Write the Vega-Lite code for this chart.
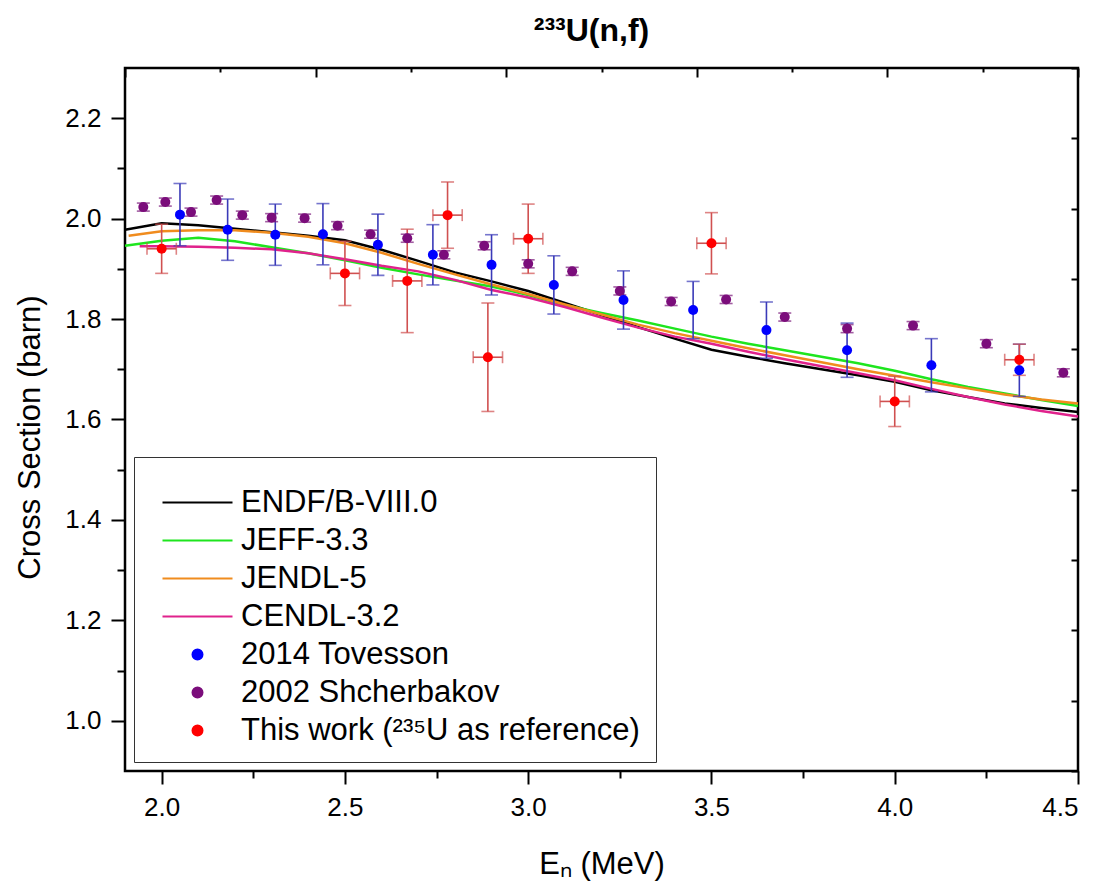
{
  "$schema": "https://vega.github.io/schema/vega-lite/v6.json",
  "width": 953,
  "height": 703,
  "autosize": "none",
  "padding": {"left": 125, "top": 68, "right": 23, "bottom": 114},
  "background": "white",
  "title": {"text": "²³³U(n,f)", "font": "Liberation Sans", "fontSize": 32, "fontWeight": "bold", "anchor": "middle", "offset": 19, "dx": -10, "color": "#000"},
  "config": {
    "view": {"stroke": "#000", "strokeWidth": 2.5},
    "axis": {"domain": false, "grid": false, "tickColor": "#000", "tickWidth": 2, "labelColor": "#000", "titleColor": "#000", "labelFont": "Liberation Sans", "titleFont": "Liberation Sans", "labelFontSize": 26, "titleFontSize": 31, "titleFontWeight": "normal"}
  },
  "datasets": {
    "curves": [
      {"s": "ENDF/B-VIII.0", "E": 1.9, "xs": 1.978}, {"s": "ENDF/B-VIII.0", "E": 2.0, "xs": 1.991}, {"s": "ENDF/B-VIII.0", "E": 2.1, "xs": 1.987}, {"s": "ENDF/B-VIII.0", "E": 2.2, "xs": 1.980}, {"s": "ENDF/B-VIII.0", "E": 2.3, "xs": 1.973}, {"s": "ENDF/B-VIII.0", "E": 2.4, "xs": 1.966}, {"s": "ENDF/B-VIII.0", "E": 2.5, "xs": 1.957}, {"s": "ENDF/B-VIII.0", "E": 2.6, "xs": 1.938}, {"s": "ENDF/B-VIII.0", "E": 2.7, "xs": 1.916}, {"s": "ENDF/B-VIII.0", "E": 2.8, "xs": 1.893}, {"s": "ENDF/B-VIII.0", "E": 2.9, "xs": 1.875}, {"s": "ENDF/B-VIII.0", "E": 3.0, "xs": 1.856}, {"s": "ENDF/B-VIII.0", "E": 3.1, "xs": 1.832}, {"s": "ENDF/B-VIII.0", "E": 3.2, "xs": 1.808}, {"s": "ENDF/B-VIII.0", "E": 3.3, "xs": 1.784}, {"s": "ENDF/B-VIII.0", "E": 3.4, "xs": 1.761}, {"s": "ENDF/B-VIII.0", "E": 3.5, "xs": 1.739}, {"s": "ENDF/B-VIII.0", "E": 3.6, "xs": 1.725}, {"s": "ENDF/B-VIII.0", "E": 3.7, "xs": 1.712}, {"s": "ENDF/B-VIII.0", "E": 3.8, "xs": 1.700}, {"s": "ENDF/B-VIII.0", "E": 3.9, "xs": 1.688}, {"s": "ENDF/B-VIII.0", "E": 4.0, "xs": 1.675}, {"s": "ENDF/B-VIII.0", "E": 4.1, "xs": 1.658}, {"s": "ENDF/B-VIII.0", "E": 4.2, "xs": 1.645}, {"s": "ENDF/B-VIII.0", "E": 4.3, "xs": 1.632}, {"s": "ENDF/B-VIII.0", "E": 4.4, "xs": 1.623}, {"s": "ENDF/B-VIII.0", "E": 4.5, "xs": 1.615},
      {"s": "JEFF-3.3", "E": 1.9, "xs": 1.946}, {"s": "JEFF-3.3", "E": 2.0, "xs": 1.956}, {"s": "JEFF-3.3", "E": 2.1, "xs": 1.962}, {"s": "JEFF-3.3", "E": 2.2, "xs": 1.955}, {"s": "JEFF-3.3", "E": 2.3, "xs": 1.943}, {"s": "JEFF-3.3", "E": 2.4, "xs": 1.931}, {"s": "JEFF-3.3", "E": 2.5, "xs": 1.917}, {"s": "JEFF-3.3", "E": 2.6, "xs": 1.902}, {"s": "JEFF-3.3", "E": 2.7, "xs": 1.889}, {"s": "JEFF-3.3", "E": 2.8, "xs": 1.877}, {"s": "JEFF-3.3", "E": 2.9, "xs": 1.865}, {"s": "JEFF-3.3", "E": 3.0, "xs": 1.848}, {"s": "JEFF-3.3", "E": 3.1, "xs": 1.828}, {"s": "JEFF-3.3", "E": 3.2, "xs": 1.812}, {"s": "JEFF-3.3", "E": 3.3, "xs": 1.797}, {"s": "JEFF-3.3", "E": 3.4, "xs": 1.781}, {"s": "JEFF-3.3", "E": 3.5, "xs": 1.765}, {"s": "JEFF-3.3", "E": 3.6, "xs": 1.751}, {"s": "JEFF-3.3", "E": 3.7, "xs": 1.738}, {"s": "JEFF-3.3", "E": 3.8, "xs": 1.725}, {"s": "JEFF-3.3", "E": 3.9, "xs": 1.712}, {"s": "JEFF-3.3", "E": 4.0, "xs": 1.697}, {"s": "JEFF-3.3", "E": 4.1, "xs": 1.680}, {"s": "JEFF-3.3", "E": 4.2, "xs": 1.665}, {"s": "JEFF-3.3", "E": 4.3, "xs": 1.652}, {"s": "JEFF-3.3", "E": 4.4, "xs": 1.639}, {"s": "JEFF-3.3", "E": 4.5, "xs": 1.627},
      {"s": "JENDL-5", "E": 1.91, "xs": 1.966}, {"s": "JENDL-5", "E": 2.0, "xs": 1.975}, {"s": "JENDL-5", "E": 2.1, "xs": 1.977}, {"s": "JENDL-5", "E": 2.2, "xs": 1.977}, {"s": "JENDL-5", "E": 2.3, "xs": 1.972}, {"s": "JENDL-5", "E": 2.4, "xs": 1.964}, {"s": "JENDL-5", "E": 2.5, "xs": 1.951}, {"s": "JENDL-5", "E": 2.6, "xs": 1.932}, {"s": "JENDL-5", "E": 2.7, "xs": 1.910}, {"s": "JENDL-5", "E": 2.8, "xs": 1.889}, {"s": "JENDL-5", "E": 2.9, "xs": 1.869}, {"s": "JENDL-5", "E": 3.0, "xs": 1.850}, {"s": "JENDL-5", "E": 3.1, "xs": 1.829}, {"s": "JENDL-5", "E": 3.2, "xs": 1.809}, {"s": "JENDL-5", "E": 3.3, "xs": 1.789}, {"s": "JENDL-5", "E": 3.4, "xs": 1.772}, {"s": "JENDL-5", "E": 3.5, "xs": 1.757}, {"s": "JENDL-5", "E": 3.6, "xs": 1.742}, {"s": "JENDL-5", "E": 3.7, "xs": 1.728}, {"s": "JENDL-5", "E": 3.8, "xs": 1.714}, {"s": "JENDL-5", "E": 3.9, "xs": 1.700}, {"s": "JENDL-5", "E": 4.0, "xs": 1.687}, {"s": "JENDL-5", "E": 4.1, "xs": 1.674}, {"s": "JENDL-5", "E": 4.2, "xs": 1.662}, {"s": "JENDL-5", "E": 4.3, "xs": 1.650}, {"s": "JENDL-5", "E": 4.4, "xs": 1.640}, {"s": "JENDL-5", "E": 4.5, "xs": 1.632},
      {"s": "CENDL-3.2", "E": 1.94, "xs": 1.945}, {"s": "CENDL-3.2", "E": 2.0, "xs": 1.945}, {"s": "CENDL-3.2", "E": 2.1, "xs": 1.944}, {"s": "CENDL-3.2", "E": 2.2, "xs": 1.942}, {"s": "CENDL-3.2", "E": 2.3, "xs": 1.939}, {"s": "CENDL-3.2", "E": 2.4, "xs": 1.931}, {"s": "CENDL-3.2", "E": 2.5, "xs": 1.919}, {"s": "CENDL-3.2", "E": 2.6, "xs": 1.906}, {"s": "CENDL-3.2", "E": 2.7, "xs": 1.895}, {"s": "CENDL-3.2", "E": 2.8, "xs": 1.878}, {"s": "CENDL-3.2", "E": 2.9, "xs": 1.858}, {"s": "CENDL-3.2", "E": 3.0, "xs": 1.843}, {"s": "CENDL-3.2", "E": 3.1, "xs": 1.824}, {"s": "CENDL-3.2", "E": 3.2, "xs": 1.803}, {"s": "CENDL-3.2", "E": 3.3, "xs": 1.783}, {"s": "CENDL-3.2", "E": 3.4, "xs": 1.765}, {"s": "CENDL-3.2", "E": 3.5, "xs": 1.751}, {"s": "CENDL-3.2", "E": 3.6, "xs": 1.735}, {"s": "CENDL-3.2", "E": 3.7, "xs": 1.720}, {"s": "CENDL-3.2", "E": 3.8, "xs": 1.706}, {"s": "CENDL-3.2", "E": 3.9, "xs": 1.692}, {"s": "CENDL-3.2", "E": 4.0, "xs": 1.678}, {"s": "CENDL-3.2", "E": 4.1, "xs": 1.661}, {"s": "CENDL-3.2", "E": 4.2, "xs": 1.645}, {"s": "CENDL-3.2", "E": 4.3, "xs": 1.630}, {"s": "CENDL-3.2", "E": 4.4, "xs": 1.617}, {"s": "CENDL-3.2", "E": 4.5, "xs": 1.606}
    ],
    "pts": [
      {"s": "2002 Shcherbakov", "E": 1.95, "xs": 2.023, "lo": 2.015, "hi": 2.031},
      {"s": "2002 Shcherbakov", "E": 2.01, "xs": 2.033, "lo": 2.025, "hi": 2.041},
      {"s": "2002 Shcherbakov", "E": 2.08, "xs": 2.013, "lo": 2.005, "hi": 2.021},
      {"s": "2002 Shcherbakov", "E": 2.15, "xs": 2.037, "lo": 2.029, "hi": 2.045},
      {"s": "2002 Shcherbakov", "E": 2.22, "xs": 2.007, "lo": 1.999, "hi": 2.015},
      {"s": "2002 Shcherbakov", "E": 2.30, "xs": 2.002, "lo": 1.994, "hi": 2.010},
      {"s": "2002 Shcherbakov", "E": 2.39, "xs": 2.001, "lo": 1.993, "hi": 2.009},
      {"s": "2002 Shcherbakov", "E": 2.48, "xs": 1.986, "lo": 1.978, "hi": 1.994},
      {"s": "2002 Shcherbakov", "E": 2.57, "xs": 1.969, "lo": 1.961, "hi": 1.977},
      {"s": "2002 Shcherbakov", "E": 2.67, "xs": 1.961, "lo": 1.953, "hi": 1.969},
      {"s": "2002 Shcherbakov", "E": 2.77, "xs": 1.928, "lo": 1.920, "hi": 1.936},
      {"s": "2002 Shcherbakov", "E": 2.88, "xs": 1.946, "lo": 1.938, "hi": 1.954},
      {"s": "2002 Shcherbakov", "E": 3.00, "xs": 1.910, "lo": 1.902, "hi": 1.918},
      {"s": "2002 Shcherbakov", "E": 3.12, "xs": 1.895, "lo": 1.887, "hi": 1.903},
      {"s": "2002 Shcherbakov", "E": 3.25, "xs": 1.856, "lo": 1.848, "hi": 1.864},
      {"s": "2002 Shcherbakov", "E": 3.39, "xs": 1.835, "lo": 1.827, "hi": 1.843},
      {"s": "2002 Shcherbakov", "E": 3.54, "xs": 1.839, "lo": 1.831, "hi": 1.847},
      {"s": "2002 Shcherbakov", "E": 3.70, "xs": 1.804, "lo": 1.796, "hi": 1.812},
      {"s": "2002 Shcherbakov", "E": 3.87, "xs": 1.781, "lo": 1.773, "hi": 1.789},
      {"s": "2002 Shcherbakov", "E": 4.05, "xs": 1.787, "lo": 1.779, "hi": 1.795},
      {"s": "2002 Shcherbakov", "E": 4.25, "xs": 1.751, "lo": 1.743, "hi": 1.759},
      {"s": "2002 Shcherbakov", "E": 4.46, "xs": 1.693, "lo": 1.685, "hi": 1.701},
      {"s": "2014 Tovesson", "E": 2.05, "xs": 2.008, "lo": 1.946, "hi": 2.070},
      {"s": "2014 Tovesson", "E": 2.18, "xs": 1.978, "lo": 1.917, "hi": 2.039},
      {"s": "2014 Tovesson", "E": 2.31, "xs": 1.968, "lo": 1.907, "hi": 2.029},
      {"s": "2014 Tovesson", "E": 2.44, "xs": 1.969, "lo": 1.908, "hi": 2.030},
      {"s": "2014 Tovesson", "E": 2.59, "xs": 1.948, "lo": 1.887, "hi": 2.009},
      {"s": "2014 Tovesson", "E": 2.74, "xs": 1.928, "lo": 1.868, "hi": 1.988},
      {"s": "2014 Tovesson", "E": 2.90, "xs": 1.908, "lo": 1.848, "hi": 1.968},
      {"s": "2014 Tovesson", "E": 3.07, "xs": 1.868, "lo": 1.810, "hi": 1.926},
      {"s": "2014 Tovesson", "E": 3.26, "xs": 1.838, "lo": 1.780, "hi": 1.896},
      {"s": "2014 Tovesson", "E": 3.45, "xs": 1.818, "lo": 1.761, "hi": 1.875},
      {"s": "2014 Tovesson", "E": 3.65, "xs": 1.778, "lo": 1.722, "hi": 1.834},
      {"s": "2014 Tovesson", "E": 3.87, "xs": 1.738, "lo": 1.684, "hi": 1.792},
      {"s": "2014 Tovesson", "E": 4.10, "xs": 1.708, "lo": 1.655, "hi": 1.761},
      {"s": "2014 Tovesson", "E": 4.34, "xs": 1.698, "lo": 1.646, "hi": 1.750},
      {"s": "This work (²³⁵U as reference)", "E": 2.00, "xs": 1.940, "lo": 1.891, "hi": 1.989, "Elo": 1.96, "Ehi": 2.04},
      {"s": "This work (²³⁵U as reference)", "E": 2.50, "xs": 1.891, "lo": 1.827, "hi": 1.955, "Elo": 2.46, "Ehi": 2.54},
      {"s": "This work (²³⁵U as reference)", "E": 2.67, "xs": 1.876, "lo": 1.773, "hi": 1.979, "Elo": 2.63, "Ehi": 2.71},
      {"s": "This work (²³⁵U as reference)", "E": 2.78, "xs": 2.007, "lo": 1.941, "hi": 2.073, "Elo": 2.74, "Ehi": 2.82},
      {"s": "This work (²³⁵U as reference)", "E": 2.89, "xs": 1.724, "lo": 1.616, "hi": 1.832, "Elo": 2.85, "Ehi": 2.93},
      {"s": "This work (²³⁵U as reference)", "E": 3.00, "xs": 1.960, "lo": 1.891, "hi": 2.029, "Elo": 2.96, "Ehi": 3.04},
      {"s": "This work (²³⁵U as reference)", "E": 3.50, "xs": 1.951, "lo": 1.890, "hi": 2.012, "Elo": 3.46, "Ehi": 3.54},
      {"s": "This work (²³⁵U as reference)", "E": 4.00, "xs": 1.636, "lo": 1.586, "hi": 1.686, "Elo": 3.96, "Ehi": 4.04},
      {"s": "This work (²³⁵U as reference)", "E": 4.34, "xs": 1.719, "lo": 1.688, "hi": 1.750, "Elo": 4.30, "Ehi": 4.38}
    ]
  },
  "layer": [
    {
      "data": {"name": "curves"},
      "mark": {"type": "line", "strokeWidth": 2.5},
      "encoding": {
        "x": {"field": "E", "type": "quantitative", "scale": {"domain": [1.9, 4.5], "nice": false, "zero": false},
          "axis": {"orient": "bottom", "values": [2, 2.25, 2.5, 2.75, 3, 3.25, 3.5, 3.75, 4, 4.25, 4.5],
            "tickSize": {"condition": {"test": "datum.value % 0.5 == 0", "value": 13}, "value": 7},
            "labelExpr": "datum.value % 0.5 == 0 ? format(datum.value, '.1f') : ''",
            "labelPadding": 10, "title": "Eₙ (MeV)", "titleY": 102, "titleBaseline": "alphabetic"}},
        "y": {"field": "xs", "type": "quantitative", "scale": {"domain": [0.9, 2.3], "nice": false, "zero": false},
          "axis": {"orient": "left", "values": [1.0, 1.1, 1.2, 1.3, 1.4, 1.5, 1.6, 1.7, 1.8, 1.9, 2.0, 2.1, 2.2],
            "tickSize": {"condition": {"test": "round(datum.value * 10) % 2 == 0", "value": 14}, "value": 8},
            "labelExpr": "round(datum.value * 10) % 2 == 0 ? format(datum.value, '.1f') : ''",
            "labelPadding": 10, "title": "Cross Section (barn)", "titleX": -95, "titleY": 369, "titleBaseline": "middle"}},
        "color": {"field": "s", "type": "nominal",
          "scale": {"domain": ["ENDF/B-VIII.0", "JEFF-3.3", "JENDL-5", "CENDL-3.2", "2014 Tovesson", "2002 Shcherbakov", "This work (²³⁵U as reference)"],
                    "range": ["#000000", "#1ee51e", "#f08c1e", "#e0228c", "#0000ff", "#7b0d7b", "#ff0000"]}}
      }
    },
    {
      "data": {"name": "pts"},
      "mark": {"type": "rule", "strokeWidth": 1.6},
      "encoding": {
        "x": {"field": "E", "type": "quantitative", "scale": {"domain": [1.9, 4.5], "nice": false, "zero": false},
          "axis": {"orient": "top", "values": [1.9, 2.16, 2.42, 2.68, 2.94, 3.2, 3.46, 3.72, 3.98, 4.24, 4.5], "labels": false, "title": null,
            "tickSize": {"condition": {"test": "indexof([1.9, 2.42, 2.94, 3.46, 3.98, 4.5], datum.value) >= 0", "value": -9}, "value": -4}}},
        "y": {"field": "lo", "type": "quantitative", "scale": {"domain": [0.9, 2.3], "nice": false, "zero": false},
          "axis": {"orient": "right", "values": [0.9, 1.04, 1.18, 1.32, 1.46, 1.6, 1.74, 1.88, 2.02, 2.16, 2.3], "labels": false, "title": null, "tickSize": -7}},
        "y2": {"field": "hi"},
        "stroke": {"field": "s", "type": "nominal", "scale": {"domain": ["2014 Tovesson", "2002 Shcherbakov", "This work (²³⁵U as reference)"], "range": ["#3a3ab8", "#7a1a7a", "#d05050"]}, "legend": null}
      }
    },
    {
      "data": {"name": "pts"},
      "mark": {"type": "tick", "orient": "horizontal", "size": 13, "thickness": 1.6},
      "encoding": {
        "x": {"field": "E", "type": "quantitative", "scale": {"domain": [1.9, 4.5], "nice": false, "zero": false}, "axis": null},
        "y": {"field": "lo", "type": "quantitative", "scale": {"domain": [0.9, 2.3], "nice": false, "zero": false}, "axis": null},
        "fill": {"field": "s", "type": "nominal", "scale": {"domain": ["2014 Tovesson", "2002 Shcherbakov", "This work (²³⁵U as reference)"], "range": ["#3a3ab8", "#7a1a7a", "#d05050"]}, "legend": null}
      }
    },
    {
      "data": {"name": "pts"},
      "mark": {"type": "tick", "orient": "horizontal", "size": 13, "thickness": 1.6},
      "encoding": {
        "x": {"field": "E", "type": "quantitative", "scale": {"domain": [1.9, 4.5], "nice": false, "zero": false}, "axis": null},
        "y": {"field": "hi", "type": "quantitative", "scale": {"domain": [0.9, 2.3], "nice": false, "zero": false}, "axis": null},
        "fill": {"field": "s", "type": "nominal", "legend": null}
      }
    },
    {
      "data": {"name": "pts"},
      "transform": [{"filter": "isValid(datum.Elo)"}],
      "mark": {"type": "rule", "strokeWidth": 1.6, "color": "#d05050"},
      "encoding": {
        "x": {"field": "Elo", "type": "quantitative", "scale": {"domain": [1.9, 4.5], "nice": false, "zero": false}, "axis": null},
        "x2": {"field": "Ehi"},
        "y": {"field": "xs", "type": "quantitative", "scale": {"domain": [0.9, 2.3], "nice": false, "zero": false}, "axis": null}
      }
    },
    {
      "data": {"name": "pts"},
      "transform": [{"filter": "isValid(datum.Elo)"}],
      "mark": {"type": "tick", "orient": "vertical", "size": 12, "thickness": 1.6, "color": "#d05050"},
      "encoding": {
        "x": {"field": "Elo", "type": "quantitative", "scale": {"domain": [1.9, 4.5], "nice": false, "zero": false}, "axis": null},
        "y": {"field": "xs", "type": "quantitative", "scale": {"domain": [0.9, 2.3], "nice": false, "zero": false}, "axis": null}
      }
    },
    {
      "data": {"name": "pts"},
      "transform": [{"filter": "isValid(datum.Elo)"}],
      "mark": {"type": "tick", "orient": "vertical", "size": 12, "thickness": 1.6, "color": "#d05050"},
      "encoding": {
        "x": {"field": "Ehi", "type": "quantitative", "scale": {"domain": [1.9, 4.5], "nice": false, "zero": false}, "axis": null},
        "y": {"field": "xs", "type": "quantitative", "scale": {"domain": [0.9, 2.3], "nice": false, "zero": false}, "axis": null}
      }
    },
    {
      "data": {"name": "pts"},
      "mark": {"type": "point", "filled": true, "opacity": 1},
      "encoding": {
        "x": {"field": "E", "type": "quantitative", "scale": {"domain": [1.9, 4.5], "nice": false, "zero": false}, "axis": null},
        "y": {"field": "xs", "type": "quantitative", "scale": {"domain": [0.9, 2.3], "nice": false, "zero": false}, "axis": null},
        "color": {"field": "s", "type": "nominal",
          "legend": {"orient": "none", "legendX": 9, "legendY": 389, "title": " ", "titleFontSize": 14, "titlePadding": 0,
            "padding": 16, "rowPadding": 6, "labelFontSize": 31, "labelFont": "Liberation Sans", "labelColor": "#000", "labelLimit": 700,
            "strokeColor": "#333", "fillColor": "#fff", "symbolOffset": 32, "labelOffset": 28, "symbolStrokeWidth": 2, "symbolOpacity": 1}},
        "shape": {"field": "s", "type": "nominal",
          "scale": {"domain": ["ENDF/B-VIII.0", "JEFF-3.3", "JENDL-5", "CENDL-3.2", "2014 Tovesson", "2002 Shcherbakov", "This work (²³⁵U as reference)"],
                    "range": ["M-7,0H7", "M-7,0H7", "M-7,0H7", "M-7,0H7", "circle", "circle", "circle"]}},
        "size": {"field": "s", "type": "nominal",
          "scale": {"domain": ["ENDF/B-VIII.0", "JEFF-3.3", "JENDL-5", "CENDL-3.2", "2014 Tovesson", "2002 Shcherbakov", "This work (²³⁵U as reference)"],
                    "range": [100, 100, 100, 100, 100, 100, 210]}}
      }
    }
  ],
  "resolve": {"axis": {"x": "independent", "y": "independent"}}
}
